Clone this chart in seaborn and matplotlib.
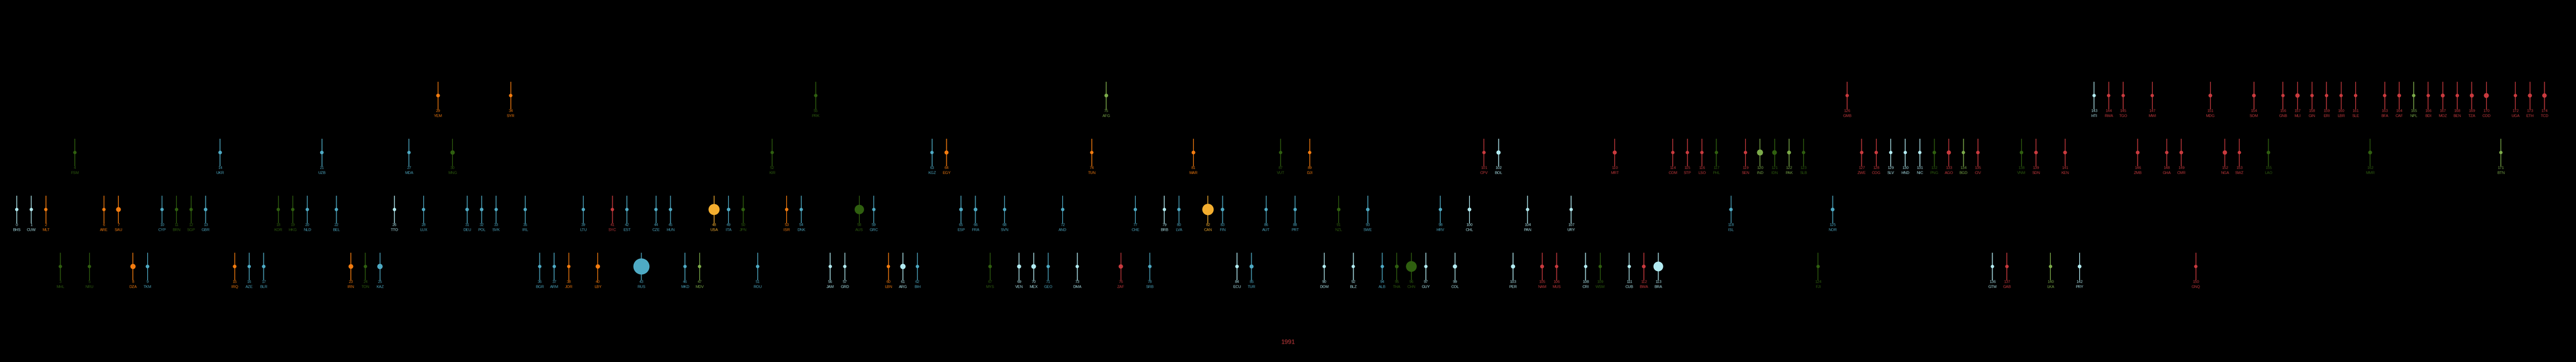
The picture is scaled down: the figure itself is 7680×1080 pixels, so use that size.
""" Country ranking strip, 1991 """

import pandas as pd
import matplotlib.pyplot as plt
import seaborn as sns

# rank order 0..174, ISO3 code of each ranked country
codes = [
    "BHS", "CUW", "MLT", "MHL", "FSM", "NRU", "ARE", "SAU", "DZA", "TKM",
    "CYP", "BRN", "SGP", "GBR", "UKR", "IRQ", "AZE", "BLR", "KOR", "HKG",
    "NLD", "UZB", "BEL", "IRN", "TON", "KAZ", "TTO", "MDA", "LUX", "YEM",
    "MNG", "DEU", "POL", "SVK", "SYR", "IRL", "BGR", "ARM", "JOR", "LTU",
    "LBY", "SYC", "EST", "RUS", "CZE", "HUN", "MKD", "MDV", "USA", "ITA",
    "JPN", "ROU", "KIR", "ISR", "DNK", "PRK", "JAM", "GRD", "AUS", "GRC",
    "LBN", "ARG", "BIH", "KGZ", "EGY", "ESP", "FRA", "MYS", "SVN", "VEN",
    "MEX", "GEO", "AND", "DMA", "TUN", "AFG", "ZAF", "CHE", "SRB", "BRB",
    "LVA", "MAR", "CAN", "FIN", "ECU", "TUR", "AUT", "VUT", "PRT", "DJI",
    "DOM", "NZL", "BLZ", "SWE", "ALB", "THA", "CHN", "GUY", "HRV", "COL",
    "CHL", "CPV", "BOL", "PER", "PAN", "NAM", "MUS", "URY", "CRI", "WSM",
    "MRT", "CUB", "BWA", "BRA", "COM", "STP", "LSO", "PHL", "ISL", "SEN",
    "IND", "IDN", "PAK", "SLB", "FJI", "NOR", "GMB", "ZWE", "COG", "SLV",
    "HND", "NIC", "PNG", "AGO", "BGD", "CIV", "GTM", "GAB", "VNM", "SDN",
    "LKA", "KEN", "PRY", "HTI", "RWA", "TGO", "ZMB", "MWI", "GHA", "CMR",
    "GNQ", "MDG", "NGA", "SWZ", "SOM", "LAO", "GNB", "MLI", "GIN", "ERI",
    "LBR", "SLE", "MMR", "BFA", "CAF", "NPL", "BDI", "MOZ", "BEN", "TZA",
    "COD", "BTN", "UGA", "ETH", "TCD",
]

# group row of each country (1 = top row ... 4 = bottom row)
groups = [
    3, 3, 3, 4, 2, 4, 3, 3, 4, 4,
    3, 3, 3, 3, 2, 4, 4, 4, 3, 3,
    3, 2, 3, 4, 4, 4, 3, 2, 3, 1,
    2, 3, 3, 3, 1, 3, 4, 4, 4, 3,
    4, 3, 3, 4, 3, 3, 4, 4, 3, 3,
    3, 4, 2, 3, 3, 1, 4, 4, 3, 3,
    4, 4, 4, 2, 2, 3, 3, 4, 3, 4,
    4, 4, 3, 4, 2, 1, 4, 3, 4, 3,
    3, 2, 3, 3, 4, 4, 3, 2, 3, 2,
    4, 3, 4, 3, 4, 4, 4, 4, 3, 4,
    3, 2, 2, 4, 3, 4, 4, 3, 4, 4,
    2, 4, 4, 4, 2, 2, 2, 2, 3, 2,
    2, 2, 2, 2, 4, 3, 1, 2, 2, 2,
    2, 2, 2, 2, 2, 2, 4, 4, 2, 2,
    4, 2, 4, 1, 1, 1, 2, 1, 2, 2,
    4, 1, 2, 2, 1, 2, 1, 1, 1, 1,
    1, 1, 2, 1, 1, 1, 1, 1, 1, 1,
    1, 2, 1, 1, 1,
]

# region of each country
regions = [
    "LAC", "LAC", "MENA", "EAP", "EAP", "EAP", "MENA", "MENA", "MENA", "ECA",
    "ECA", "EAP", "EAP", "ECA", "ECA", "MENA", "ECA", "ECA", "EAP", "EAP",
    "ECA", "ECA", "ECA", "MENA", "EAP", "ECA", "LAC", "ECA", "ECA", "MENA",
    "EAP", "ECA", "ECA", "ECA", "MENA", "ECA", "ECA", "ECA", "MENA", "ECA",
    "MENA", "SSA", "ECA", "ECA", "ECA", "ECA", "ECA", "SAS", "NA", "ECA",
    "EAP", "ECA", "EAP", "MENA", "ECA", "EAP", "LAC", "LAC", "EAP", "ECA",
    "MENA", "LAC", "ECA", "ECA", "MENA", "ECA", "ECA", "EAP", "ECA", "LAC",
    "LAC", "ECA", "ECA", "LAC", "MENA", "SAS", "SSA", "ECA", "ECA", "LAC",
    "ECA", "MENA", "NA", "ECA", "LAC", "ECA", "ECA", "EAP", "ECA", "MENA",
    "LAC", "EAP", "LAC", "ECA", "ECA", "EAP", "EAP", "LAC", "ECA", "LAC",
    "LAC", "SSA", "LAC", "LAC", "LAC", "SSA", "SSA", "LAC", "LAC", "EAP",
    "SSA", "LAC", "SSA", "LAC", "SSA", "SSA", "SSA", "EAP", "ECA", "SSA",
    "SAS", "EAP", "SAS", "EAP", "EAP", "ECA", "SSA", "SSA", "SSA", "LAC",
    "LAC", "LAC", "EAP", "SSA", "SAS", "SSA", "LAC", "SSA", "EAP", "SSA",
    "SAS", "SSA", "LAC", "LAC", "SSA", "SSA", "SSA", "SSA", "SSA", "SSA",
    "SSA", "SSA", "SSA", "SSA", "SSA", "EAP", "SSA", "SSA", "SSA", "SSA",
    "SSA", "SSA", "EAP", "SSA", "SSA", "SAS", "SSA", "SSA", "SSA", "SSA",
    "SSA", "SAS", "SSA", "SSA", "SSA",
]

# dot size (relative, smallest countries ~10)
dot_size = [
    10, 10, 10, 10, 10, 10, 10, 14.3, 15.6, 10.7,
    10, 10, 10, 10.5, 10.7, 10.7, 10, 10.5, 10, 10,
    10, 10.7, 10, 14, 10, 16, 10, 10, 10, 11,
    13, 10.5, 10.5, 10, 10.2, 10, 10, 10, 10, 10,
    13, 10, 10, 48, 10, 10, 10, 10, 33, 10.5,
    10.5, 10.2, 10, 10, 10, 10, 10, 10, 28, 10,
    10, 16, 10, 10, 12, 11, 11, 10.5, 10, 12,
    14, 10, 10, 10, 10, 11, 13, 10, 10.2, 10,
    10, 11, 34, 10.5, 10.5, 12, 10, 10, 10, 10,
    10, 10.5, 10, 10.5, 10, 11, 32, 10, 10, 12.5,
    11, 10, 12.5, 12.5, 10, 11.5, 10, 10, 10, 10,
    12, 10, 11, 29, 10, 10, 10, 10, 10.5, 10,
    18, 14, 11.5, 10, 10, 11, 10, 10.3, 10.3, 10,
    10, 10, 10.5, 12.5, 10, 10.5, 10, 10.3, 10.5, 10.7,
    10, 11, 11, 10, 10, 10, 11, 10, 10.2, 11,
    10, 11, 13, 10, 11, 10.5, 10, 13, 10.2, 10,
    10, 10, 11.5, 10.2, 11, 10, 10, 11.5, 10.3, 12,
    14.7, 10, 10, 12, 13.3,
]

year = "1991"

palette = {
    "LAC": "#b2ebf2",
    "ECA": "#4eaac4",
    "EAP": "#2f5f0f",
    "SAS": "#7cab4a",
    "MENA": "#f57c0f",
    "NA": "#f4ae2f",
    "SSA": "#c93a3e",
}

df = pd.DataFrame({"code": codes, "group": groups, "region": regions, "dot": dot_size})
df["rank"] = range(len(df))
df["dot_area"] = df["dot"] ** 2  # marker area scales with diameter squared

sns.set_style("dark")
plt.rcParams["font.family"] = ["Liberation Sans", "DejaVu Sans"]

fig = plt.figure(figsize=(76.8, 10.8), dpi=100, facecolor="black")
ax = fig.add_axes([0, 0, 1, 1])
ax.set_facecolor("black")

# 1 px = 1/170 row step vertically, 43.31 px per rank horizontally
px_y = 1 / 170
ax.set_xlim(-50 / 43.31, (7680 - 50) / 43.31)
ax.set_ylim(1 + (1080 - 285) * px_y, 1 - 285 * px_y)

# stems
ax.vlines(df["rank"], df["group"] - 41 * px_y, df["group"] + 41 * px_y,
          colors=df["region"].map(palette), linewidth=1.5, zorder=1)

# dots, area proportional to dot_area
pt = 72 / 100
amin, amax = df["dot_area"].min(), df["dot_area"].max()
sns.scatterplot(data=df, x="rank", y="group", hue="region", palette=palette,
                size="dot_area", size_norm=(amin, amax),
                sizes=(amin * pt ** 2, amax * pt ** 2),
                linewidth=0, legend=False, ax=ax, zorder=2)

# rank number and code under each stem
for _, row in df.iterrows():
    c = palette[row["region"]]
    ax.text(row["rank"], row["group"] + 45.5 * px_y, str(row["rank"]), color=c,
            fontsize=8.2, ha="center", va="center")
    ax.text(row["rank"], row["group"] + 60.7 * px_y, row["code"], color=c,
            fontsize=8.2, ha="center", va="center")

# year label centred at the bottom of the figure
ax.text(0.5, 1 - 1022 / 1080, year, transform=ax.transAxes, color="#c0393b",
        fontsize=13.5, ha="center", va="center")

ax.set_axis_off()
fig.savefig("out.png", dpi=100, facecolor="black")
